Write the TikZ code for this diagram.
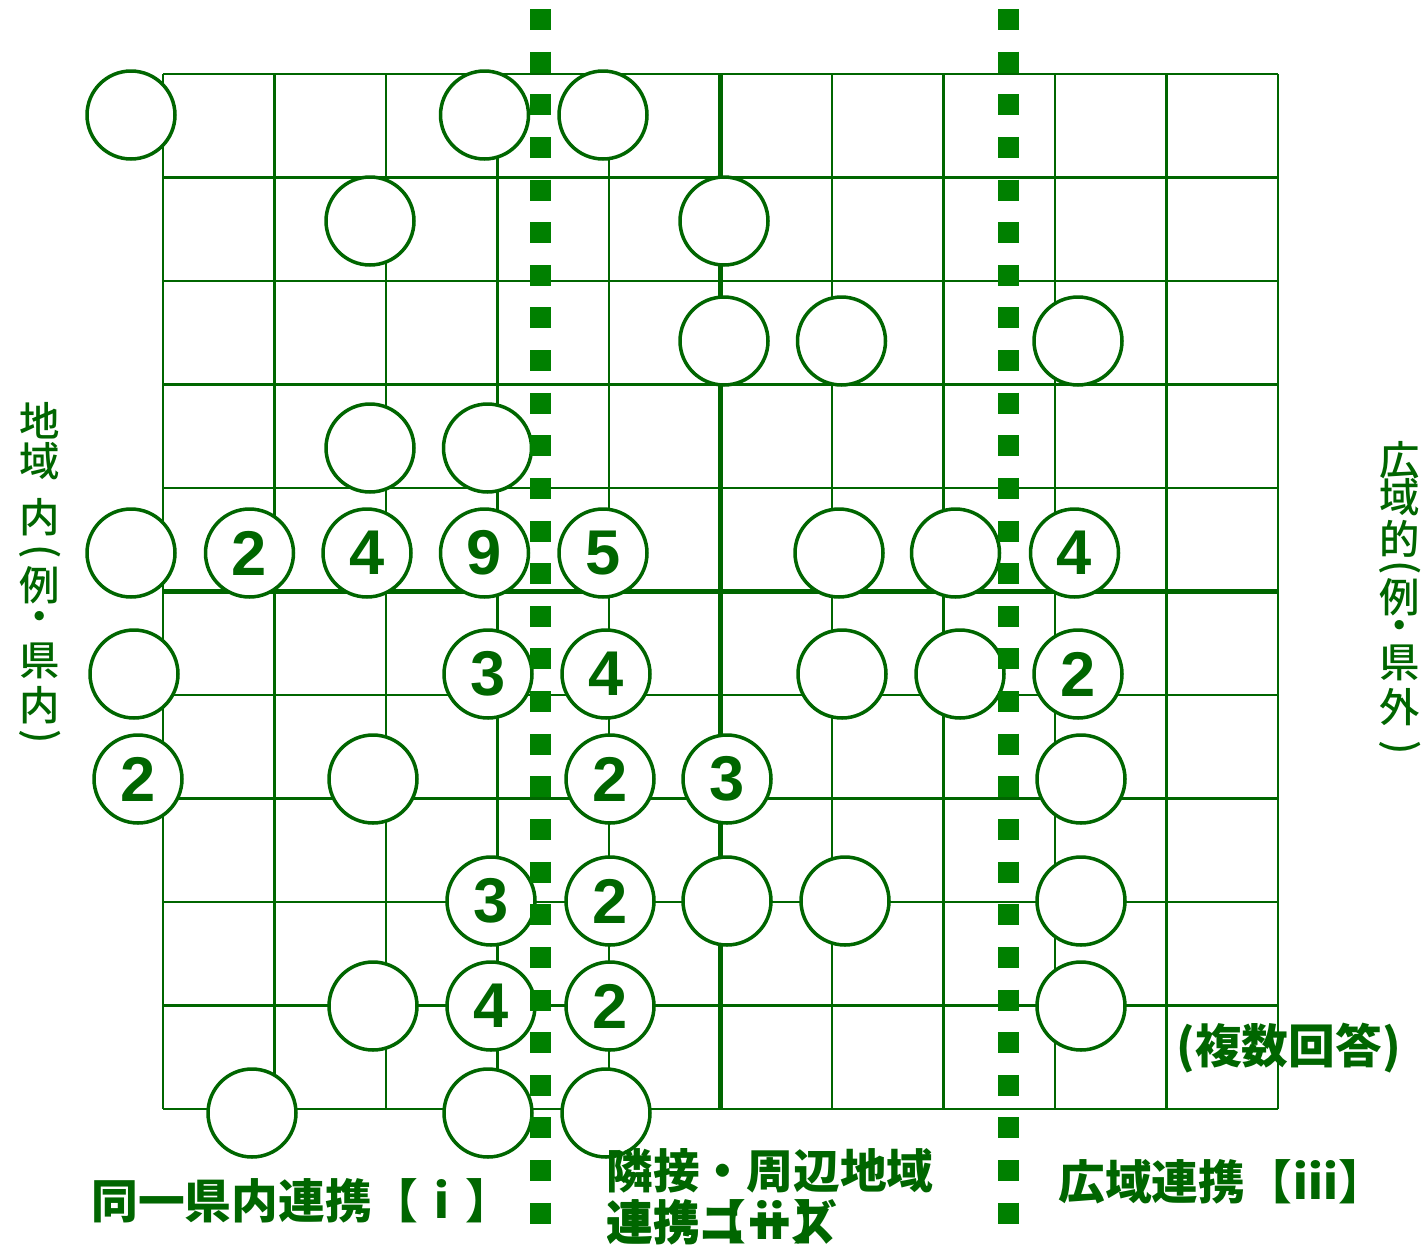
\documentclass[tikz,border=0pt]{standalone}
\usepackage{fontspec}
\setmainfont{Liberation Sans}
\newfontfamily\cjk{Noto Sans CJK JP Medium}
\newfontfamily\cjkheavy{Noto Sans CJK JP Black}
\usetikzlibrary{positioning}
\definecolor{gridgreen}{RGB}{0,102,0}
\definecolor{dotgreen}{RGB}{0,128,0}
\tikzset{
  gridline/.style={draw=gridgreen, line width=1.3pt},
  axisline/.style={draw=gridgreen, line width=2.8pt},
  dotline/.style={draw=dotgreen, line width=0.42cm, dash pattern=on 0.42cm off 0.4328cm},
  ring/.style={circle, draw=gridgreen, line width=2pt, fill=white, minimum size=1.76cm,
    inner sep=0pt, text=gridgreen, font=\fontsize{36pt}{36pt}\selectfont\bfseries},
  sidetext/.style={text=gridgreen, inner sep=0pt, font=\cjk\fontsize{23pt}{25pt}\selectfont},
  grouplabel/.style={text=gridgreen, inner sep=0pt, anchor=west,
    font=\cjkheavy\fontsize{26.6pt}{29pt}\selectfont},
}
\begin{document}
\begin{tikzpicture}[x=0.02cm, y=-0.02cm]
  \useasboundingbox (0,0) rectangle (1422,1254);
  %griglia
  \foreach \i in {0,...,10} {
    \draw[gridline] ({163+111.5*\i},74) -- ({163+111.5*\i},1109);
    \draw[gridline] (163,{74+103.5*\i}) -- (1278,{74+103.5*\i});
  }
  %assi centrali
  \draw[axisline] (720.5,74) -- (720.5,1109);
  \draw[axisline] (163,591.5) -- (1278,591.5);
  %cerchi con risposte
  \foreach \xx/\yy/\val [count=\k] in {
      131/115/{}, 484.5/115/{}, 603/115/{},
      370/221/{}, 724/221/{},
      724/341/{}, 841.5/341/{}, 1078/341/{},
      370/448/{}, 487.5/448/{},
      131/553/{}, 249.5/553/2, 367/553/4, 484.5/553/9, 603/553/5, 839/553/{}, 955.5/553/{}, 1074.5/553/4,
      134/674/{}, 488/674/3, 606/674/4, 842/674/{}, 960/674/{}, 1078/674/2,
      138/779/2, 373/779/{}, 610/779/2, 727/779/3, 1081/779/{},
      491/901/3, 610/901/2, 727/901/{}, 845/901/{}, 1081/901/{},
      373/1006/{}, 491/1006/4, 610/1006/2, 1081/1006/{},
      252/1113/{}, 488/1113/{}, 606/1113/{}}
    \node[ring] (c\k) at (\xx,\yy) {\val};
  %linee tratteggiate
  \coordinate (dAtop) at (540,9);
  \coordinate (dAbot) at (540,1225);
  \coordinate (dBtop) at (1008,9);
  \coordinate (dBbot) at (1008,1225);
  \draw[dotline] (dAtop) -- (dAbot);
  \draw[dotline] (dBtop) -- (dBbot);
  %testi laterali
  \foreach \ch/\yy [count=\k] in {地/421, 域/461, 内/517, 例/585, ・/621, 県/661, 内/705}
    \node[sidetext] (sl\k) at (40,\yy) {\ch};
  \node[sidetext, rotate=-90] (slopen) at (40,552) {(};
  \node[sidetext, rotate=-90] (slclose) at (40,737) {)};
  \foreach \ch/\yy [count=\k] in {広/460, 域/497, 的/539, 例/597, ・/630, 県/663, 外/707}
    \node[sidetext] (sr\k) at (1400,\yy) {\ch};
  \node[sidetext, rotate=-90] (sropen) at (1400,568) {(};
  \node[sidetext, rotate=-90] (srclose) at (1400,748) {)};
  %etichette in basso
  \node[grouplabel] (lbli) at (91,1201) {同一県内連携【ⅰ】};
  \node[grouplabel] (lblii) at (606,1171) {隣接・周辺地域};
  \node[grouplabel] (lbliib) at (606,1222) {連携【ⅱ】};
  \node[grouplabel] (lbliic) at (606,1222) {連携ニーズ};
  \node[grouplabel] (lbliii) at (1058,1182) {広域連携【ⅲ】};
  \node[grouplabel] (multi) at (1176,1048) {(複数回答)};
\end{tikzpicture}
\end{document}
